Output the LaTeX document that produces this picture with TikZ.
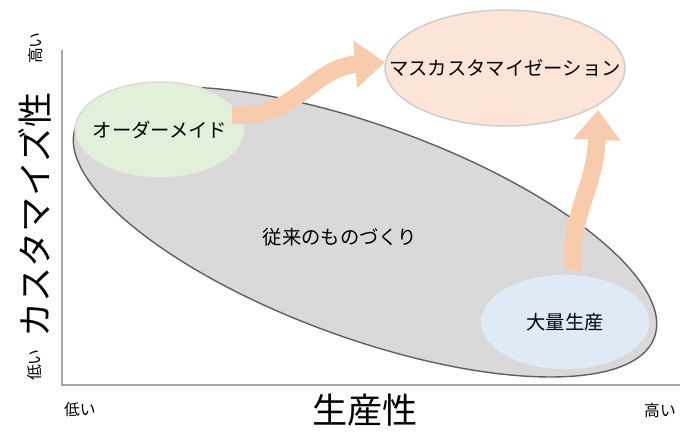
\documentclass[tikz,border=0pt]{standalone}
\usepackage{fontspec}
\setmainfont{Noto Sans CJK JP}
\usetikzlibrary{arrows.meta}
\definecolor{arr}{RGB}{248,203,173}
\definecolor{gfill}{RGB}{226,239,217}
\definecolor{bfill}{RGB}{222,235,247}
\definecolor{pfill}{RGB}{252,228,214}
\begin{document}
\begin{tikzpicture}[x=0.02cm,y=-0.02cm,
  bigarrow/.style={draw=arr, line width=10pt, -{Triangle[length=17pt,width=26pt]}},
  lbl/.style={font=\fontsize{11}{13}\selectfont},
  axl/.style={font=\fontsize{9}{11}\selectfont}]
\useasboundingbox (0,0) rectangle (690,447);
\draw[gray!70, line width=0.8pt] (62,50) -- (62,385) -- (680,385);
\node[rotate=90,font=\fontsize{20}{22}\selectfont] (ylab) at (35,215) {カスタマイズ性};
\node[rotate=90,axl] (yhi) at (35,48) {高い};
\node[rotate=90,axl] (ylo) at (35,365) {低い};
\node[font=\fontsize{20}{22}\selectfont] (xlab) at (365,410) {生産性};
\node[axl] (xlo) at (80,410) {低い};
\node[axl] (xhi) at (660,410) {高い};
\draw[fill=gray!30, draw=gray!75!black, line width=0.8pt, rotate around={-20:(365,232)}] (365,232) ellipse (308 and 106);
\node[lbl] (trad) at (340,237) {従来のものづくり};
\draw[fill=gfill, draw=white!85!black, line width=0.8pt] (160,130) ellipse (85 and 48);
\node[lbl] (om) at (160,130) {オーダーメイド};
\draw[fill=bfill, draw=white!85!black, line width=0.8pt] (565,322) ellipse (85 and 48);
\node[lbl] (ml) at (565,322) {大量生産};
\draw[fill=pfill, draw=white!80!black, line width=0.8pt] (505,68) ellipse (120 and 58);
\node[lbl] (mc) at (505,68) {マスカスタマイゼーション};
\coordinate (a1) at (232,115);
\coordinate (a1e) at (385,62);
\coordinate (a2) at (573,270);
\coordinate (a2e) at (598,110);
\draw[bigarrow] (a1) .. controls (300,118) and (310,68) .. (a1e);
\draw[bigarrow] (a2) .. controls (570,210) and (595,190) .. (a2e);
\end{tikzpicture}
\end{document}
